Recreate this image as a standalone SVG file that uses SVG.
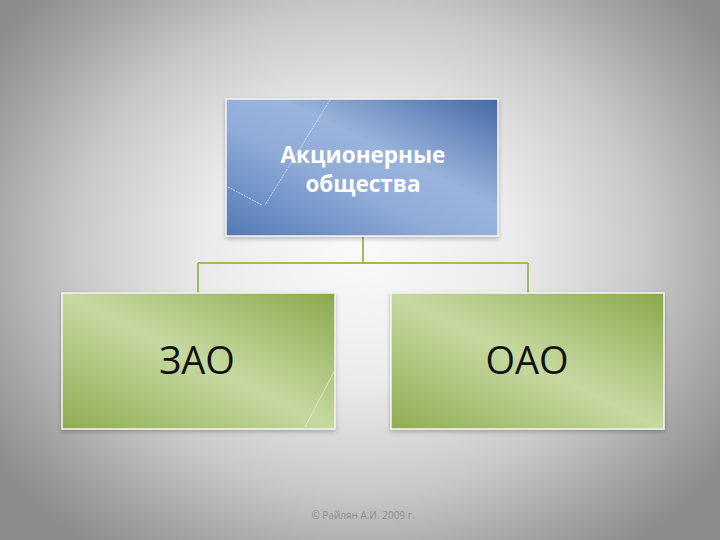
<svg xmlns="http://www.w3.org/2000/svg" width="720" height="540" viewBox="0 0 720 540">
  <defs>
    <radialGradient id="bg" cx="360" cy="250" r="440" gradientTransform="translate(360 250) scale(1 0.85) translate(-360 -250)" gradientUnits="userSpaceOnUse">
      <stop offset="0" stop-color="#fafafa"/>
      <stop offset="0.35" stop-color="#ebebeb"/>
      <stop offset="0.65" stop-color="#c8c8c8"/>
      <stop offset="0.85" stop-color="#a4a4a4"/>
      <stop offset="1" stop-color="#8c8c8c"/>
    </radialGradient>
    <linearGradient id="blue" x1="0" y1="1" x2="1" y2="0">
      <stop offset="0" stop-color="#5279b6"/>
      <stop offset="0.4" stop-color="#8fabd7"/>
      <stop offset="0.6" stop-color="#9ab4dc"/>
      <stop offset="1" stop-color="#4669a6"/>
    </linearGradient>
    <linearGradient id="green" x1="0" y1="1" x2="1" y2="0">
      <stop offset="0" stop-color="#8eac52"/>
      <stop offset="0.5" stop-color="#c6d9a0"/>
      <stop offset="1" stop-color="#8aa94c"/>
    </linearGradient>
    <filter id="sh" x="-10%" y="-10%" width="120%" height="130%">
      <feGaussianBlur in="SourceAlpha" stdDeviation="2"/>
      <feOffset dx="0" dy="2"/>
      <feComponentTransfer><feFuncA type="linear" slope="0.25"/></feComponentTransfer>
      <feMerge><feMergeNode/><feMergeNode in="SourceGraphic"/></feMerge>
    </filter>
    <style>
      .box { stroke: #f4f4f4; stroke-width: 1.5; filter: url(#sh); }
      .conn { fill: none; stroke: #a2b865; stroke-width: 2; }
      .deco { fill: none; stroke: #dfe8f5; stroke-width: 1; stroke-dasharray: 2 1; opacity: 0.8; }
      .head { font-family: "Open Sans", "Liberation Sans", sans-serif; font-weight: bold; font-size: 22.5px; fill: #ffffff; text-anchor: middle; }
      .lbl { font-family: "Open Sans", "Liberation Sans", sans-serif; font-size: 38px; fill: #111111; text-anchor: middle; }
      .foot { font-family: "Open Sans", "Liberation Sans", sans-serif; font-size: 10px; fill: #8e8e8e; text-anchor: middle; }
    </style>
  </defs>
  <rect x="0" y="0" width="720" height="540" fill="url(#bg)"/>

  <g id="connectors">
    <path class="conn" d="M363 236 V263 M198 263 H528 M198 263 V293 M528 263 V293"/>
  </g>

  <g id="node-ao">
    <rect class="box" x="226" y="99" width="272" height="137" fill="url(#blue)"/>
    <path class="deco" d="M330 100 L265 205 M228 187 L262 205"/>
    <text class="head" x="363" y="163">Акционерные</text>
    <text class="head" x="363" y="192">общества</text>
  </g>

  <g id="node-zao">
    <rect class="box" x="62" y="293" width="273" height="136" fill="url(#green)"/>
    <path d="M334 372 L305 427" stroke="#e4edd2" stroke-width="1" opacity="0.8"/>
    <text class="lbl" x="197" y="374">ЗАО</text>
  </g>

  <g id="node-oao">
    <rect class="box" x="391" y="293" width="273" height="136" fill="url(#green)"/>
    <text class="lbl" x="527" y="374">ОАО</text>
  </g>

  <text class="foot" x="363" y="519">© Райлян А.И. 2009 г.</text>
</svg>
